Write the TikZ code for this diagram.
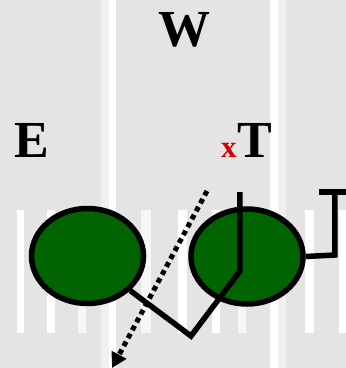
\documentclass[tikz,border=0pt]{standalone}
\usepackage{fontspec}
\setmainfont{Liberation Serif}
\usetikzlibrary{shapes.geometric,arrows.meta}
\definecolor{field}{RGB}{228,228,228}
\definecolor{lite}{RGB}{240,240,240}
\definecolor{pale}{RGB}{246,246,246}
\definecolor{pgreen}{RGB}{0,100,0}
\definecolor{xred}{RGB}{210,0,0}
\begin{document}
\begin{tikzpicture}[x=1pt,y=-1pt,
  player/.style={ellipse, draw=black, fill=pgreen, line width=5.5pt,
    minimum width=112pt, minimum height=95pt, inner sep=0pt},
  route/.style={line width=5.5pt},
  motion/.style={line width=5pt, dash pattern=on 5pt off 4pt,
    -{Triangle[length=15pt,width=16pt]}},
  lbl/.style={font=\fontsize{52}{52}\selectfont\bfseries, inner sep=0pt},
  xlbl/.style={font=\fontsize{31}{31}\selectfont\bfseries, text=xred, inner sep=0pt},
  stripe/.style={fill=white, draw=none},
  halo/.style={fill=lite, draw=none}]
\useasboundingbox (0,0) rectangle (346,368);
% field
\fill[field] (0,0) rectangle (346,368);
\fill[halo] (101,0) rectangle (109,368);
\fill[stripe] (109,0) rectangle (116,368);
\fill[stripe] (270,0) rectangle (278,368);
\fill[halo] (278,0) rectangle (286,368);
\foreach \a/\b in {17/24,47/55,178/187,212/220,305/314,339/346}
  \fill[stripe] (\a,210) rectangle (\b,333);
\foreach \a/\b in {78/86,141/151,238/246}
  \fill[pale] (\a,210) rectangle (\b,333);
% labels
\node[lbl, anchor=base] (W) at (185,46) {W};
\node[lbl, anchor=base west] (E) at (14,157) {E};
\node[lbl, anchor=base west] (T) at (237,157) {T};
\node[xlbl, anchor=base west] (X) at (221,157) {x};
% players
\node[player] (L) at (87.5,256) {};
\node[player] (R) at (247,256.5) {};
% routes
\coordinate (b1) at (191,336);
\coordinate (b2) at (240,271);
\coordinate (top) at (240,192);
\draw[route] (L.-39) -- (b1) -- (b2) -- (top);
\coordinate (c1) at (335,255);
\coordinate (c2) at (335,192);
\coordinate (bl) at (319,192);
\coordinate (br) at (346,192);
\draw[route] (R.east) -- (c1) -- (c2);
\draw[route] (bl) -- (br);
% motion
\coordinate (m0) at (207,191);
\coordinate (m1) at (112,368);
\draw[motion] (m0) -- (m1);
\end{tikzpicture}
\end{document}
